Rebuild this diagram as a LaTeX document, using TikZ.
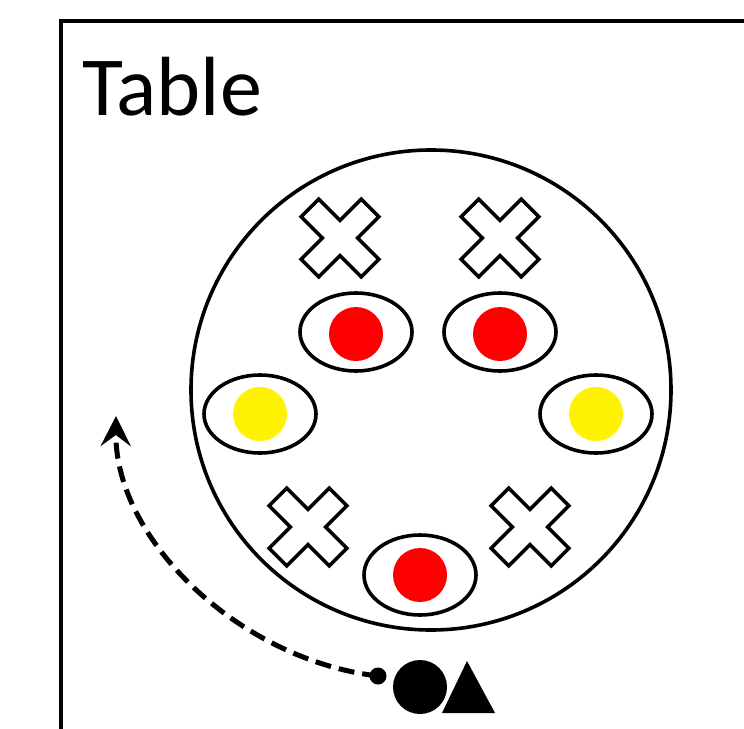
\documentclass[tikz,border=0pt]{standalone}
\usepackage{fontspec}
\setmainfont{Carlito}
\usetikzlibrary{shapes.geometric,arrows.meta}
\tikzset{
  frameline/.style={line width=4pt},
  tableline/.style={line width=3.6pt},
  seat/.style={ellipse, draw, line width=3.6pt, minimum width=112pt, minimum height=78pt, inner sep=0pt, fill=white},
  plate/.style={circle, inner sep=0pt, minimum size=54pt},
  redplate/.style={plate, fill=red},
  yellowplate/.style={plate, fill=yellow},
  person/.style={circle, fill=black, inner sep=0pt, minimum size=54pt},
  startdot/.style={circle, fill=black, inner sep=0pt, minimum size=17pt},
  walkpath/.style={line width=5pt, dash pattern=on 16pt off 8pt,
    -{Stealth[length=30pt,width=30pt,inset=11pt]}},
  cross/.pic={
    \draw[line width=3.6pt, line join=miter, fill=white, rotate=45]
      (12.5,12.5) -- (12.5,42.5) -- (-12.5,42.5) -- (-12.5,12.5)
      -- (-42.5,12.5) -- (-42.5,-12.5) -- (-12.5,-12.5) -- (-12.5,-42.5)
      -- (12.5,-42.5) -- (12.5,-12.5) -- (42.5,-12.5) -- (42.5,12.5) -- cycle;
  }
}
\begin{document}
\begin{tikzpicture}[x=1pt,y=-1pt]
  \useasboundingbox (0,0) rectangle (744,728);
  \clip (0,0) rectangle (744,728);
  \fill[white] (0,0) rectangle (744,728);

  % room outline, running past the right and bottom edges
  \draw[frameline] (60.5,800) |- (820,21);

  % title
  \node[anchor=base west, inner sep=0pt, font=\fontsize{84}{84}\selectfont] (title) at (82,115) {Table};

  % round table
  \node[circle, draw, tableline, minimum size=480pt, inner sep=0pt] (table) at (431,390) {};

  % empty places
  \pic at (340,238) {cross};
  \pic at (500,238) {cross};
  \pic at (308,527) {cross};
  \pic at (530,527) {cross};

  % occupied places
  \node[seat] (seatA) at (356,332) {};
  \node[redplate] (plateA) at (356,334) {};
  \node[seat] (seatB) at (500,332) {};
  \node[redplate] (plateB) at (500,334) {};
  \node[seat] (seatC) at (260,414) {};
  \node[yellowplate] (plateC) at (260,414) {};
  \node[seat] (seatD) at (596,414) {};
  \node[yellowplate] (plateD) at (596,414) {};
  \node[seat, minimum height=80pt] (seatE) at (420,575) {};
  \node[redplate] (plateE) at (420,575) {};

  % newcomer
  \node[person] (guest) at (420,687) {};
  \coordinate (triL) at (442,713);
  \coordinate (triR) at (495,713);
  \coordinate (triT) at (467,661);
  \fill[black] (triL) -- (triT) -- (triR) -- cycle;
  \node[startdot] (start) at (378,676) {};
  \coordinate (tip) at (116,416);

  \draw[walkpath] (start.center) .. controls (240,660) and (115,540) .. (tip);
\end{tikzpicture}
\end{document}
